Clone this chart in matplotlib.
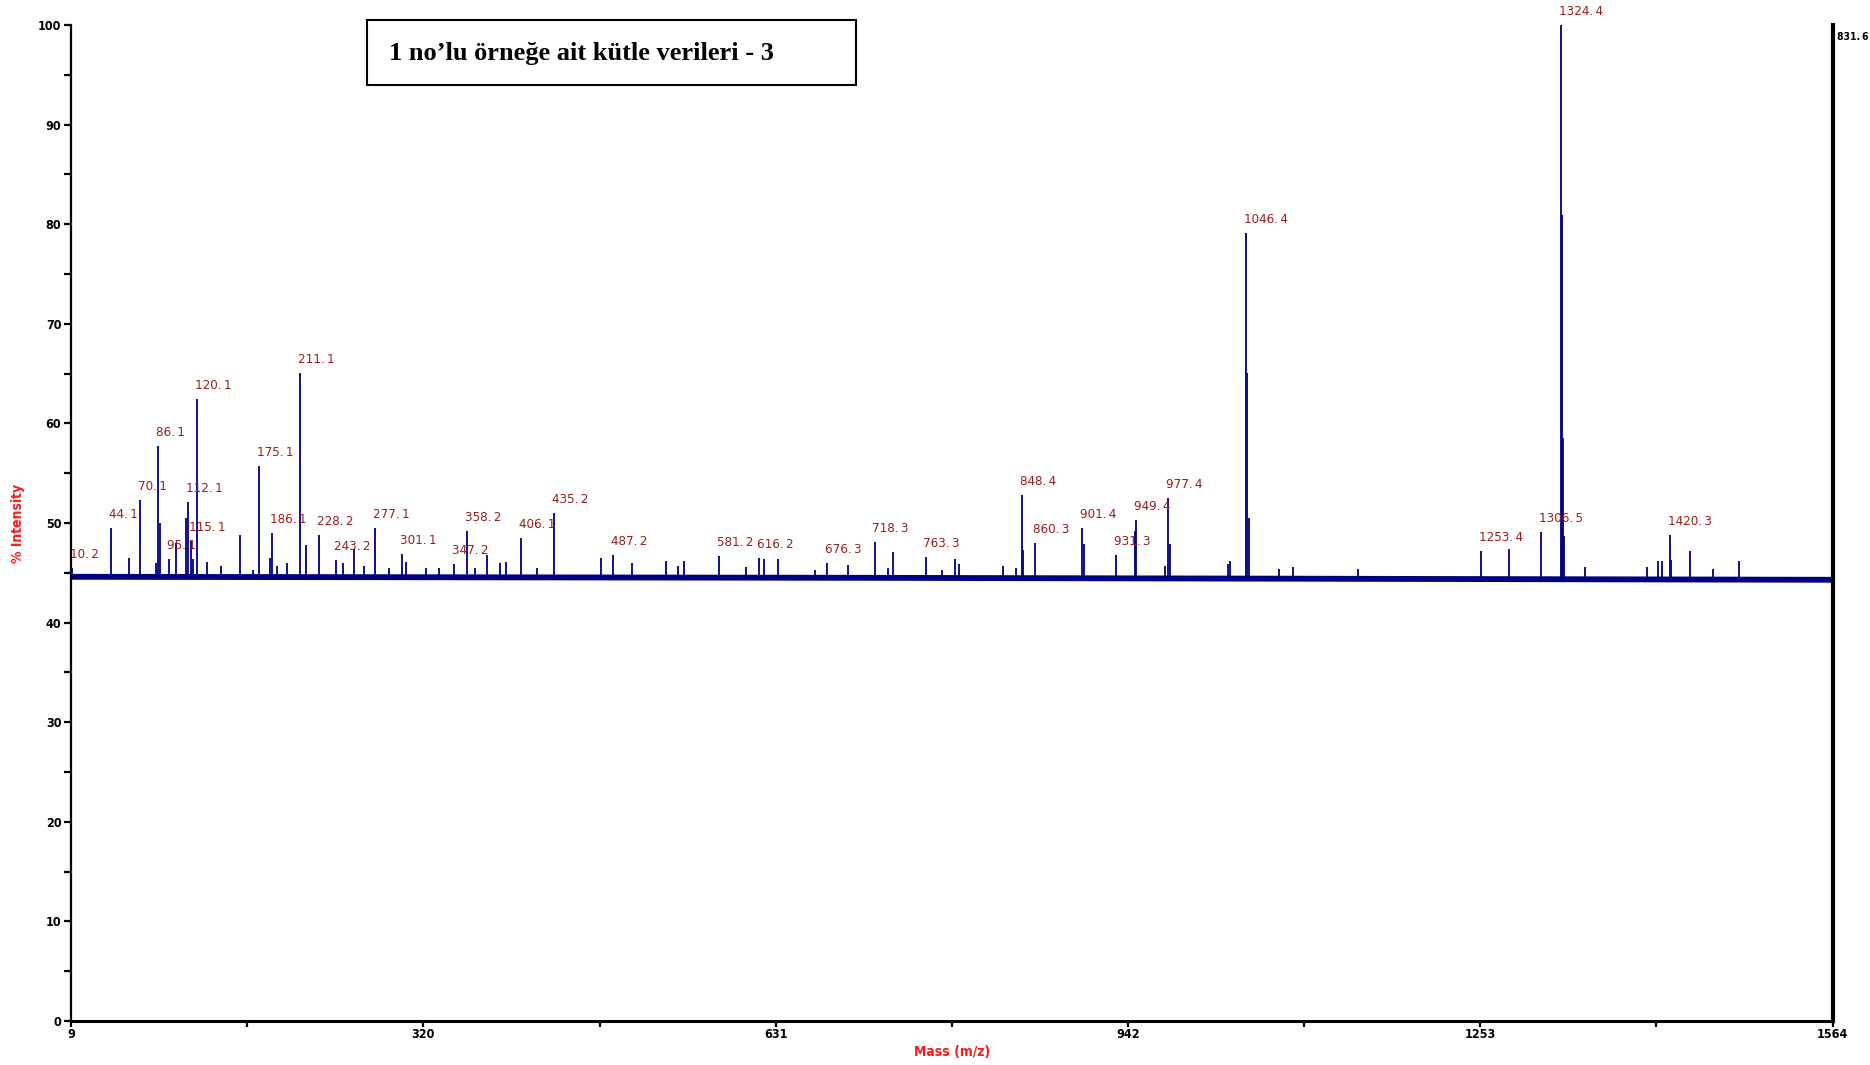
import matplotlib
matplotlib.use("Agg")
import matplotlib.pyplot as plt
import numpy as np
from matplotlib.ticker import MultipleLocator, FixedLocator

# ---------------- data ----------------
x_ticks = [9, 320, 631, 942, 1253, 1564]
y_ticks = [0, 10, 20, 30, 40, 50, 60, 70, 80, 90, 100]

# labelled peaks (m/z, % intensity)
label_mz = [10.2, 44.1, 70.1, 86.1, 95.1, 112.1, 115.1, 120.1, 175.1, 186.1,
            211.1, 228.2, 243.2, 277.1, 301.1, 347.2, 358.2, 406.1, 435.2, 487.2,
            581.2, 616.2, 676.3, 718.3, 763.3, 848.4, 860.3, 901.4, 931.3, 949.4,
            977.4, 1046.4, 1253.4, 1306.5, 1324.4, 1420.3]
label_int = [45.5, 49.5, 52.3, 57.7, 46.4, 52.1, 48.2, 62.5, 55.7, 49.0,
             65.1, 48.8, 46.3, 49.5, 46.9, 45.9, 49.2, 48.5, 51.0, 46.8,
             46.7, 46.5, 46.0, 48.1, 46.6, 52.8, 48.0, 49.5, 46.8, 50.3,
             52.5, 79.1, 47.2, 49.1, 100.0, 48.8]

# unlabelled peaks (m/z, % intensity)
minor_mz = [60, 84, 87.5, 102, 110.2, 117, 129, 141, 158, 170, 185, 191, 200,
            216.4, 249, 259, 268, 290, 305, 322, 334, 366, 376, 388, 393, 420,
            476.5, 504, 534, 545, 550, 605, 621, 633, 666, 694.5, 730, 735, 777.5,
            789, 793, 832, 843, 849.5, 903, 948, 975, 979, 1030, 1032, 1047.5,
            1048.5, 1075, 1088, 1145, 1278, 1325.2, 1326, 1327, 1345, 1400, 1410,
            1413, 1421.5, 1438, 1458, 1481]
minor_int = [46.5, 46.0, 50.0, 48.0, 50.5, 46.4, 46.1, 45.7, 48.8, 45.3, 46.5, 45.7, 46.0,
             47.8, 46.0, 47.4, 45.7, 45.5, 46.1, 45.5, 45.5, 45.5, 46.8, 46.0, 46.1, 45.5,
             46.5, 46.0, 46.2, 45.7, 46.2, 45.6, 46.4, 46.4, 45.3, 45.8, 45.5, 47.1, 45.3,
             46.4, 45.9, 45.7, 45.5, 47.3, 47.9, 49.2, 45.7, 47.9, 45.9, 46.2, 65.1,
             50.5, 45.4, 45.6, 45.4, 47.4, 80.9, 58.5, 48.7, 45.6, 45.6, 46.2,
             46.2, 46.3, 47.2, 45.4, 46.2]

# baseline level (m/z, % intensity)
base_mz = [9, 700, 1564]
base_int = [44.6, 44.5, 44.3]

top_label = "831.\u20096"
title = "1 no\u2019lu örneğe ait kütle verileri - 3"

# ---------------- style ----------------
trace_col = "#000080"
label_col = "#9B1C1C"
narrow = dict(family=["DejaVu Sans"], fontstretch="condensed")

fig = plt.figure(figsize=(18.7, 10.65), dpi=100)
ax = fig.add_axes([0.038, 0.0413, 0.942, 0.9352])
ax.set_xlim(9, 1564)
ax.set_ylim(0, 100)

# baseline (noise band)
ax.plot(base_mz, base_int, color=trace_col, lw=4.2, solid_capstyle="butt", zorder=2)

all_mz = np.array(minor_mz + label_mz)
all_int = np.array(minor_int + label_int)
base_at = np.interp(all_mz, base_mz, base_int)
ax.vlines(all_mz, base_at, all_int, color=trace_col, lw=1.3, zorder=3)

for m, h in zip(label_mz, label_int):
    ax.annotate(f"{m:.1f}".replace(".", ".\u2009"), xy=(m, h), xytext=(-1.5, 5),
                textcoords="offset points", ha="left", va="bottom",
                color=label_col, fontsize=9.5, **narrow)

# spines
ax.spines["top"].set_visible(False)
ax.spines["left"].set_linewidth(1.6)
ax.spines["bottom"].set_linewidth(2.2)
ax.spines["right"].set_linewidth(3.0)
ax.spines["right"].set_bounds(0, 100)

ax.xaxis.set_major_locator(FixedLocator(x_ticks))
ax.xaxis.set_minor_locator(FixedLocator([(a + b) / 2 for a, b in zip(x_ticks[:-1], x_ticks[1:])]))
ax.yaxis.set_major_locator(FixedLocator(y_ticks))
ax.yaxis.set_minor_locator(MultipleLocator(5))
ax.tick_params(axis="x", which="major", direction="out", length=4, width=1.6, pad=1)
ax.tick_params(axis="x", which="minor", direction="out", length=4, width=1.6)
ax.tick_params(axis="y", which="both", direction="out", length=5, width=1.6, pad=2)
ax.tick_params(axis="y", which="both", right=False)
ax.set_xticklabels([str(t) for t in x_ticks], fontsize=9, fontweight="bold", **narrow)
ax.set_yticklabels([str(t) for t in y_ticks], fontsize=9, fontweight="bold", **narrow)

ax.set_xlabel("Mass (m/z)", color="#FF1A1A", fontsize=10, fontweight="bold", labelpad=3, **narrow)
ax.set_ylabel("% Intensity", color="#FF1A1A", fontsize=10, fontweight="bold", labelpad=9, **narrow)

ax.text(1.0025, 0.993, top_label, transform=ax.transAxes, ha="left", va="top",
        fontsize=7.5, fontweight="bold", color="black", **narrow)

# title box
fig.text(0.208, 0.950, title, ha="left", va="center", fontsize=19, fontweight="bold",
         family=["Liberation Serif", "DejaVu Serif"])
rect = plt.Rectangle((0.1965, 0.920), 0.2615, 0.061, transform=fig.transFigure,
                     fill=False, edgecolor="black", lw=1.5)
fig.add_artist(rect)

fig.savefig("out.png", dpi=100)
